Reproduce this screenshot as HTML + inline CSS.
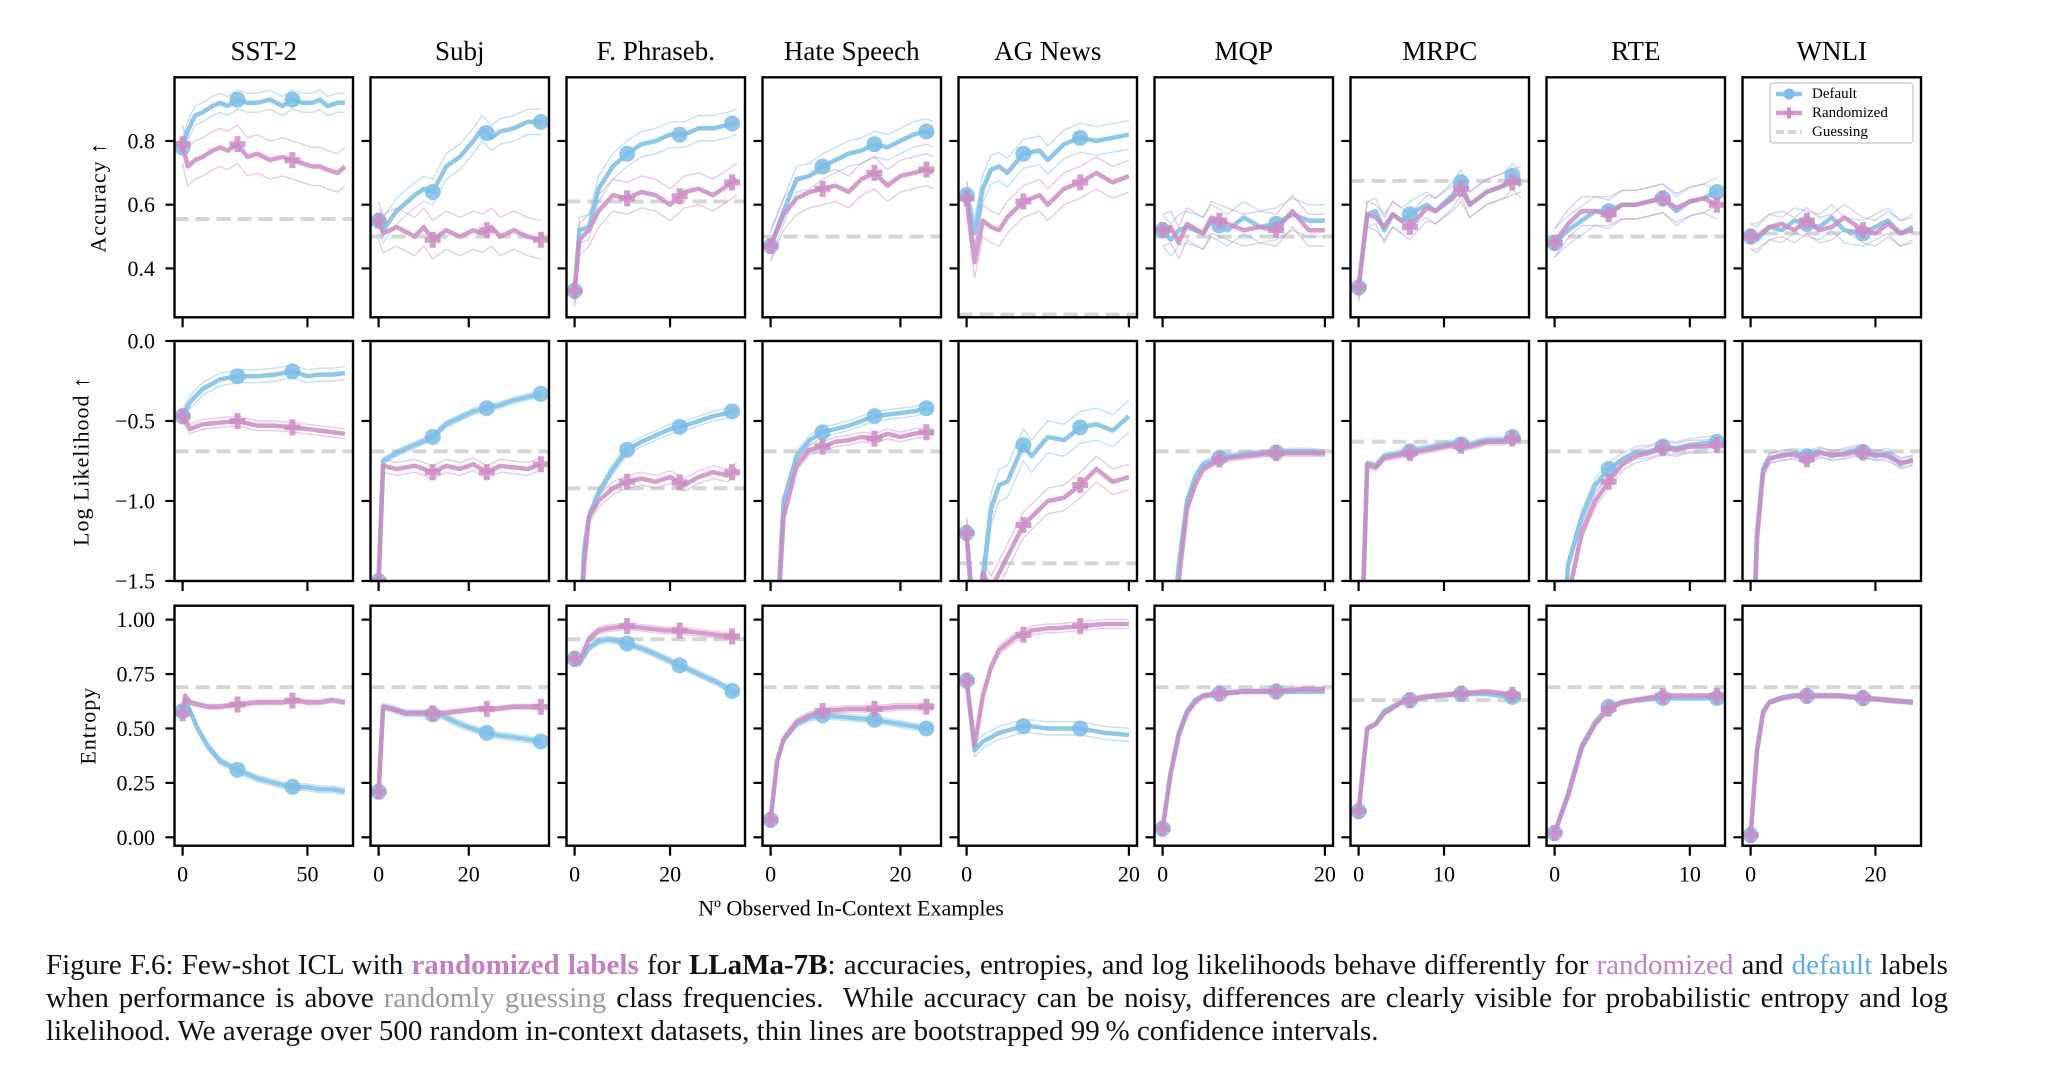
<!DOCTYPE html>
<html><head><meta charset="utf-8">
<style>
html,body{margin:0;padding:0;background:#fff;}
#wrap{position:relative;width:2046px;height:1066px;overflow:hidden;font-family:"Liberation Serif",serif;}
svg{position:absolute;left:0;top:0;}
.cap{position:absolute;left:46px;width:1902px;font-size:29px;line-height:33px;color:#111;text-align:justify;text-align-last:justify;white-space:nowrap;}
.cap.last{text-align-last:left;}
.r{color:#c57fbf;font-weight:bold;}
.r2{color:#c57fbf;}
.d{color:#5aaee3;}
.g{color:#9a9a9a;}
</style></head><body>
<div id="wrap">
<svg id="chart" width="2046" height="1066" xmlns="http://www.w3.org/2000/svg"></svg>
<div class="cap" style="top:949px">Figure F.6: Few-shot ICL with <span class="r">randomized labels</span> for <b>LLaMa-7B</b>: accuracies, entropies, and log likelihoods behave differently for <span class="r2">randomized</span> and <span class="d">default</span> labels</div>
<div class="cap" style="top:982px">when performance is above <span class="g">randomly guessing</span> class frequencies.&nbsp; While accuracy can be noisy, differences are clearly visible for probabilistic entropy and log</div>
<div class="cap last" style="top:1015px">likelihood. We average over 500 random in-context datasets, thin lines are bootstrapped 99&#8201;% confidence intervals.</div>
</div>
<script>
// ---------- categories ----------
const panelNames = ["SST-2","Subj","F. Phraseb.","Hate Speech","AG News","MQP","MRPC","RTE","WNLI"];
const panelXMax = [65,36,34,25,20,20,19,12,26];
const panelXTicks = [[0,50],[0,20],[0,20],[0,20],[0,20],[0,20],[0,10],[0,10],[0,20]];
const markEvery = [22,12,11,8,7,7,6,4,9];
const rowLabels = ["Accuracy \u2191","Log Likelihood \u2191","Entropy"];
const accTicks = [0.4,0.6,0.8];
const accTickLabels = ["0.4","0.6","0.8"];
const llTicks = [-1.5,-1.0,-0.5,0.0];
const llTickLabels = ["\u22121.5","\u22121.0","\u22120.5","0.0"];
const entTicks = [0,0.25,0.5,0.75,1.0];
const entTickLabels = ["0.00","0.25","0.50","0.75","1.00"];
const legendLabels = ["Default","Randomized","Guessing"];

// ---------- guessing baselines ----------
const guessAcc = [0.555,0.50,0.61,0.50,0.255,0.50,0.675,0.50,0.51];
const guessLL = [-0.69,-0.69,-0.92,-0.69,-1.39,-0.69,-0.63,-0.69,-0.69];
const guessEnt = [0.69,0.69,0.91,0.69,1.39,0.69,0.63,0.69,0.69];

// ---------- CI half widths ----------
const ciAccDef = [0.03,0.04,0.04,0.04,0.045,0.05,0.04,0.045,0.04];
const ciAccRnd = [0.06,0.06,0.05,0.05,0.05,0.05,0.04,0.045,0.04];
const ciLLDef = [0.04,0.02,0.03,0.03,0.10,0.02,0.02,0.04,0.03];
const ciLLRnd = [0.03,0.04,0.04,0.03,0.08,0.02,0.02,0.04,0.03];
const ciEntDef = [0.015,0.015,0.015,0.015,0.03,0.01,0.01,0.01,0.01];
const ciEntRnd = [0.01,0.01,0.015,0.015,0.02,0.01,0.01,0.01,0.01];

// ---------- Accuracy ----------
const accSST2X=[0,2,5,8,12,15,18,22,26,30,35,40,44,48,52,55,58,62,65];
const accSST2Def=[0.78,0.83,0.88,0.89,0.91,0.92,0.91,0.93,0.92,0.92,0.93,0.91,0.93,0.92,0.92,0.93,0.91,0.92,0.92];
const accSST2Rnd=[0.79,0.72,0.74,0.75,0.77,0.78,0.77,0.79,0.75,0.76,0.74,0.75,0.74,0.73,0.72,0.72,0.71,0.70,0.72];
const accSubjX=[0,1,4,8,10,12,15,18,21,23,25,27,30,33,36];
const accSubjDef=[0.55,0.52,0.58,0.63,0.65,0.64,0.72,0.75,0.80,0.84,0.81,0.83,0.84,0.86,0.86];
const accSubjRnd=[0.55,0.51,0.53,0.50,0.53,0.49,0.52,0.50,0.52,0.51,0.53,0.50,0.52,0.50,0.49];
const accFPX=[0,1,3,5,8,11,14,17,20,23,26,29,32,34];
const accFPDef=[0.33,0.52,0.53,0.65,0.72,0.76,0.79,0.80,0.82,0.82,0.84,0.84,0.85,0.86];
const accFPRnd=[0.33,0.49,0.52,0.58,0.63,0.62,0.64,0.63,0.60,0.64,0.65,0.63,0.66,0.68];
const accHateX=[0,2,4,6,8,10,12,14,16,18,20,22,24,25];
const accHateDef=[0.47,0.58,0.68,0.69,0.72,0.74,0.76,0.77,0.79,0.78,0.80,0.82,0.83,0.82];
const accHateRnd=[0.47,0.57,0.62,0.64,0.65,0.66,0.64,0.68,0.70,0.66,0.69,0.70,0.71,0.70];
const accAGX=[0,1,2,3,4,5,7,9,10,12,14,16,18,20];
const accAGDef=[0.63,0.51,0.65,0.71,0.72,0.70,0.76,0.77,0.74,0.79,0.81,0.80,0.81,0.82];
const accAGRnd=[0.62,0.42,0.55,0.53,0.52,0.56,0.61,0.63,0.60,0.65,0.67,0.70,0.67,0.69];
const accMQPX=[0,1,2,3,5,6,8,10,12,14,16,18,20];
const accMQPDef=[0.52,0.49,0.52,0.53,0.51,0.55,0.52,0.56,0.53,0.54,0.57,0.55,0.55];
const accMQPRnd=[0.52,0.53,0.48,0.54,0.51,0.56,0.54,0.52,0.53,0.52,0.58,0.52,0.52];
const accMRPCX=[0,1,2,3,4,5,6,8,9,11,12,13,15,17,18,19];
const accMRPCDef=[0.34,0.57,0.58,0.52,0.57,0.55,0.57,0.60,0.58,0.63,0.67,0.60,0.64,0.66,0.69,0.66];
const accMRPCRnd=[0.34,0.57,0.56,0.53,0.57,0.55,0.53,0.59,0.58,0.62,0.65,0.60,0.64,0.66,0.67,0.68];
const accRTEX=[0,1,2,3,4,5,6,7,8,9,10,11,12];
const accRTEDef=[0.48,0.52,0.55,0.58,0.58,0.60,0.60,0.61,0.62,0.58,0.61,0.62,0.64];
const accRTERnd=[0.48,0.54,0.58,0.58,0.57,0.60,0.60,0.61,0.62,0.59,0.61,0.62,0.60];
const accWNLIX=[0,1,3,5,7,9,11,13,15,18,20,22,24,26];
const accWNLIDef=[0.50,0.49,0.53,0.52,0.55,0.54,0.53,0.56,0.52,0.51,0.53,0.55,0.51,0.53];
const accWNLIRnd=[0.50,0.50,0.53,0.54,0.52,0.55,0.52,0.53,0.56,0.52,0.51,0.54,0.51,0.52];

// ---------- Log likelihood ----------
const llSST2X=[0,3,8,15,22,30,37,44,50,55,60,65];
const llSST2Def=[-0.47,-0.38,-0.30,-0.24,-0.22,-0.22,-0.21,-0.19,-0.22,-0.21,-0.21,-0.20];
const llSST2Rnd=[-0.47,-0.55,-0.52,-0.51,-0.50,-0.53,-0.53,-0.54,-0.55,-0.56,-0.57,-0.58];
const llSubjX=[0,1,4,8,12,15,18,21,24,27,30,33,36];
const llSubjDef=[-1.5,-0.75,-0.70,-0.65,-0.60,-0.52,-0.48,-0.44,-0.42,-0.40,-0.37,-0.35,-0.33];
const llSubjRnd=[-1.5,-0.78,-0.80,-0.78,-0.82,-0.78,-0.80,-0.77,-0.82,-0.78,-0.79,-0.80,-0.77];
const llFPX=[0,2,3,5,8,11,14,17,20,23,26,29,32,34];
const llFPDef=[-2.5,-1.3,-1.1,-0.95,-0.80,-0.68,-0.63,-0.59,-0.55,-0.53,-0.50,-0.47,-0.45,-0.43];
const llFPRnd=[-2.5,-1.4,-1.1,-1.0,-0.92,-0.88,-0.86,-0.88,-0.85,-0.90,-0.85,-0.82,-0.84,-0.80];
const llHateX=[0,2,4,6,8,10,12,14,16,18,20,22,24,25];
const llHateDef=[-2.5,-1.0,-0.72,-0.62,-0.57,-0.55,-0.53,-0.50,-0.47,-0.46,-0.45,-0.44,-0.42,-0.43];
const llHateRnd=[-2.5,-1.1,-0.78,-0.68,-0.66,-0.63,-0.62,-0.60,-0.61,-0.58,-0.60,-0.58,-0.57,-0.58];
const llAGX=[0,1,2,3,4,5,7,8,10,12,14,16,18,20];
const llAGDef=[-1.2,-1.8,-1.5,-1.05,-0.90,-0.88,-0.65,-0.72,-0.60,-0.62,-0.54,-0.52,-0.56,-0.47];
const llAGRnd=[-1.2,-1.9,-1.45,-1.55,-1.45,-1.35,-1.15,-1.10,-1.00,-0.98,-0.90,-0.80,-0.88,-0.85];
const llMQPX=[0,2,3,4,5,7,10,13,16,18,20];
const llMQPDef=[-2.5,-1.4,-1.0,-0.85,-0.77,-0.73,-0.71,-0.70,-0.69,-0.69,-0.70];
const llMQPRnd=[-2.5,-1.5,-1.05,-0.90,-0.80,-0.74,-0.72,-0.70,-0.70,-0.70,-0.70];
const llMRPCX=[0,1,2,3,5,7,9,11,13,15,17,18,19];
const llMRPCDef=[-2.5,-0.77,-0.78,-0.72,-0.70,-0.68,-0.66,-0.64,-0.65,-0.62,-0.62,-0.60,-0.62];
const llMRPCRnd=[-2.5,-0.77,-0.79,-0.73,-0.71,-0.69,-0.67,-0.65,-0.66,-0.63,-0.63,-0.61,-0.62];
const llRTEX=[0,1,2,3,4,5,6,7,8,9,10,11,12];
const llRTEDef=[-2.5,-1.4,-1.1,-0.90,-0.80,-0.74,-0.70,-0.69,-0.66,-0.67,-0.65,-0.64,-0.63];
const llRTERnd=[-2.5,-1.6,-1.2,-1.0,-0.88,-0.77,-0.72,-0.70,-0.67,-0.68,-0.66,-0.66,-0.65];
const llWNLIX=[0,1,2,3,5,7,9,11,13,15,17,20,22,24,26];
const llWNLIDef=[-2.5,-1.2,-0.80,-0.73,-0.72,-0.70,-0.72,-0.69,-0.72,-0.70,-0.68,-0.72,-0.70,-0.77,-0.74];
const llWNLIRnd=[-2.5,-1.25,-0.82,-0.74,-0.71,-0.71,-0.74,-0.70,-0.71,-0.71,-0.69,-0.71,-0.72,-0.76,-0.75];

// ---------- Entropy ----------
const entSST2X=[0,1,3,6,10,15,22,30,40,45,50,55,60,65];
const entSST2Def=[0.58,0.63,0.58,0.50,0.42,0.35,0.31,0.27,0.24,0.23,0.23,0.22,0.22,0.21];
const entSST2Rnd=[0.57,0.65,0.62,0.61,0.60,0.60,0.61,0.62,0.62,0.63,0.62,0.62,0.63,0.62];
const entSubjX=[0,1,3,6,10,14,18,22,26,30,33,36];
const entSubjDef=[0.21,0.60,0.59,0.57,0.57,0.56,0.52,0.49,0.47,0.46,0.45,0.44];
const entSubjRnd=[0.21,0.60,0.59,0.57,0.57,0.57,0.58,0.59,0.59,0.60,0.60,0.60];
const entFPX=[0,1,3,5,7,11,15,19,22,26,30,34];
const entFPDef=[0.82,0.80,0.87,0.90,0.91,0.89,0.86,0.82,0.79,0.75,0.71,0.66];
const entFPRnd=[0.82,0.81,0.91,0.95,0.96,0.97,0.96,0.95,0.95,0.94,0.93,0.92];
const entHateX=[0,1,2,4,6,8,12,16,20,24,25];
const entHateDef=[0.08,0.35,0.45,0.52,0.55,0.56,0.55,0.54,0.52,0.50,0.51];
const entHateRnd=[0.08,0.35,0.45,0.53,0.56,0.58,0.59,0.59,0.60,0.60,0.60];
const entAGX=[0,1,2,3,4,6,7,8,10,11,14,17,20];
const entAGDef=[0.72,0.40,0.44,0.46,0.48,0.50,0.51,0.51,0.50,0.50,0.50,0.48,0.47];
const entAGRnd=[0.72,0.42,0.65,0.78,0.86,0.92,0.93,0.95,0.96,0.96,0.97,0.98,0.98];
const entMQPX=[0,1,2,3,4,5,7,10,14,17,20];
const entMQPDef=[0.04,0.30,0.48,0.58,0.63,0.65,0.66,0.67,0.67,0.67,0.67];
const entMQPRnd=[0.04,0.29,0.47,0.57,0.62,0.65,0.66,0.67,0.67,0.68,0.68];
const entMRPCX=[0,1,2,3,5,7,9,12,15,17,19];
const entMRPCDef=[0.12,0.50,0.52,0.58,0.62,0.64,0.65,0.66,0.66,0.65,0.64];
const entMRPCRnd=[0.12,0.50,0.52,0.57,0.62,0.64,0.65,0.66,0.67,0.66,0.65];
const entRTEX=[0,1,2,3,4,5,6,8,10,12];
const entRTEDef=[0.02,0.20,0.42,0.53,0.60,0.62,0.63,0.64,0.64,0.64];
const entRTERnd=[0.02,0.19,0.41,0.52,0.59,0.62,0.63,0.65,0.65,0.65];
const entWNLIX=[0,1,2,3,5,7,10,14,18,22,26];
const entWNLIDef=[0.01,0.40,0.58,0.62,0.64,0.65,0.65,0.65,0.64,0.63,0.62];
const entWNLIRnd=[0.01,0.39,0.57,0.62,0.64,0.65,0.65,0.65,0.64,0.63,0.62];

const accSeries=[[accSST2X,accSST2Def,accSST2Rnd],[accSubjX,accSubjDef,accSubjRnd],[accFPX,accFPDef,accFPRnd],[accHateX,accHateDef,accHateRnd],[accAGX,accAGDef,accAGRnd],[accMQPX,accMQPDef,accMQPRnd],[accMRPCX,accMRPCDef,accMRPCRnd],[accRTEX,accRTEDef,accRTERnd],[accWNLIX,accWNLIDef,accWNLIRnd]];
const llSeries=[[llSST2X,llSST2Def,llSST2Rnd],[llSubjX,llSubjDef,llSubjRnd],[llFPX,llFPDef,llFPRnd],[llHateX,llHateDef,llHateRnd],[llAGX,llAGDef,llAGRnd],[llMQPX,llMQPDef,llMQPRnd],[llMRPCX,llMRPCDef,llMRPCRnd],[llRTEX,llRTEDef,llRTERnd],[llWNLIX,llWNLIDef,llWNLIRnd]];
const entSeries=[[entSST2X,entSST2Def,entSST2Rnd],[entSubjX,entSubjDef,entSubjRnd],[entFPX,entFPDef,entFPRnd],[entHateX,entHateDef,entHateRnd],[entAGX,entAGDef,entAGRnd],[entMQPX,entMQPDef,entMQPRnd],[entMRPCX,entMRPCDef,entMRPCRnd],[entRTEX,entRTEDef,entRTERnd],[entWNLIX,entWNLIDef,entWNLIRnd]];

// ---------- layout ----------
const NS="http://www.w3.org/2000/svg";
const svg=document.getElementById("chart");
const left0=174.5, pitch=196, pw=178.5, ph=240;
const rowTops=[77.3,341,605.7];
const rowYlim=[[0.2465,1.0],[-1.5,0],[-0.0386,1.064]];
const BLUE="#7bbde8", PINK="#cc8cc4";
function mk(tag,attrs,parent){const e=document.createElementNS(NS,tag);for(const k in attrs)e.setAttribute(k,attrs[k]);(parent||svg).appendChild(e);return e;}
function interp(xs,ys,x){for(let i=0;i<xs.length-1;i++){if(x>=xs[i]&&x<=xs[i+1]){const t=(x-xs[i])/(xs[i+1]-xs[i]);return ys[i]+t*(ys[i+1]-ys[i]);}}return ys[ys.length-1];}

const defs=mk("defs",{});
const rowsDef=[
 {series:accSeries,guess:guessAcc,ciD:ciAccDef,ciR:ciAccRnd,ticks:accTicks,labels:accTickLabels,name:"accuracy"},
 {series:llSeries,guess:guessLL,ciD:ciLLDef,ciR:ciLLRnd,ticks:llTicks,labels:llTickLabels,name:"log-likelihood"},
 {series:entSeries,guess:guessEnt,ciD:ciEntDef,ciR:ciEntRnd,ticks:entTicks,labels:entTickLabels,name:"entropy"}];

for(let r=0;r<3;r++){
 const R=rowsDef[r];const top=rowTops[r];const [y0,y1]=rowYlim[r];
 const sy=v=>top+ph-(v-y0)/(y1-y0)*ph;
 const lx=[98,81,88][r];
 const rl=mk("text",{x:lx,y:top+ph/2,"font-size":"22","font-family":"Liberation Serif, serif","text-anchor":"middle","dominant-baseline":"central",transform:`rotate(-90 ${lx} ${top+ph/2})`,"letter-spacing":"1"});
 rl.textContent=rowLabels[r];
 
 
 for(let p=0;p<9;p++){
  const L=left0+p*pitch;const xmax=panelXMax[p];
  const xa=-0.05*xmax, xb=1.05*xmax;
  const sx=v=>L+(v-xa)/(xb-xa)*pw;
  const g=mk("g",{});
  
  
  const cid="c"+r+"_"+p;
  const cp=mk("clipPath",{id:cid},defs);mk("rect",{x:L,y:top,width:pw,height:ph},cp);
  const inner=mk("g",{"clip-path":`url(#${cid})`},g);
  const gl=mk("line",{x1:L,x2:L+pw,y1:sy(R.guess[p]),y2:sy(R.guess[p]),stroke:"#d6d6d6","stroke-width":4,"stroke-dasharray":"14,7"},inner);
  
  
  const [xs,dv,rv]=R.series[p];
  const sets=[[dv,BLUE,R.ciD[p],"default"],[rv,PINK,R.ciR[p],"randomized"]];
  for(const [ys,col,ci,nm] of sets){
   for(const s of [-1,1]){
    const pts=xs.map((x,i)=>sx(x).toFixed(1)+","+sy(ys[i]+s*ci).toFixed(1)).join(" ");
    const cl=mk("polyline",{points:pts,fill:"none",stroke:col,"stroke-width":1.4,opacity:0.45},inner);
    
    
   }
  }
  for(const [ys,col,ci,nm] of sets){
   const pts=xs.map((x,i)=>sx(x).toFixed(1)+","+sy(ys[i]).toFixed(1)).join(" ");
   const ml=mk("polyline",{points:pts,fill:"none",stroke:col,"stroke-width":4.5,opacity:0.85,"stroke-linejoin":"round"},inner);
   
   
   for(let k=0;k*markEvery[p]<=xmax;k++){
    const xv=k*markEvery[p];const cx=sx(xv),cy=sy(interp(xs,ys,xv));
    let m;
    if(nm==="default"){m=mk("circle",{cx:cx,cy:cy,r:8,fill:col,opacity:0.85},inner);}
    else{m=mk("path",{d:`M${cx-8},${cy-3}h5v-5h6v5h5v6h-5v5h-6v-5h-5z`,fill:col,opacity:0.85},inner);}
    
    
   }
  }
  mk("rect",{x:L,y:top,width:pw,height:ph,fill:"none",stroke:"#000","stroke-width":2.4},g);
  R.ticks.forEach((t,i)=>{
   const y=sy(t);
   mk("line",{x1:L-9,x2:L,y1:y,y2:y,stroke:"#000","stroke-width":2.2},g);
   if(p===0){
    const tl=mk("text",{x:155,y:y,"font-size":"22","font-family":"Liberation Serif, serif","text-anchor":"end","dominant-baseline":"central"},g);
    tl.textContent=R.labels[i];
    
    
   }
  });
  panelXTicks[p].forEach(t=>{
   const x=sx(t);
   mk("line",{x1:x,x2:x,y1:top+ph,y2:top+ph+10,stroke:"#000","stroke-width":2.2},g);
   if(r===2){
    const xl=mk("text",{x:x,y:874,"font-size":"22","font-family":"Liberation Serif, serif","text-anchor":"middle","dominant-baseline":"central"},g);
    xl.textContent=String(t);
    
    
   }
  });
  if(r===0){
   const tt=mk("text",{x:L+pw/2,y:51,"font-size":"27","font-family":"Liberation Serif, serif","text-anchor":"middle","dominant-baseline":"central"},g);
   tt.textContent=panelNames[p];
   
   
  }
 }
}
const xt=mk("text",{x:851,y:908,"font-size":"22","font-family":"Liberation Serif, serif","text-anchor":"middle","dominant-baseline":"central"});
xt.textContent="N\u00BA Observed In-Context Examples";



const lg=mk("g",{});


mk("rect",{x:1770,y:83,width:143,height:60,rx:3,fill:"#fff","fill-opacity":0.85,stroke:"#cfcfcf","stroke-width":1.5},lg);
const legColors=[BLUE,PINK,"#d6d6d6"];
legendLabels.forEach((lab,i)=>{
 const y=94+i*19;
 const e=mk("g",{},lg);
 
 
 if(i<2){
  mk("line",{x1:1776,x2:1802,y1:y,y2:y,stroke:legColors[i],"stroke-width":4.5,opacity:0.85},e);
  if(i===0)mk("circle",{cx:1789,cy:y,r:5.5,fill:legColors[i]},e);
  else mk("path",{d:`M${1789-5.5},${y-2}h3.5v-3.5h4v3.5h3.5v4h-3.5v3.5h-4v-3.5h-3.5z`,fill:legColors[i]},e);
 } else {
  mk("line",{x1:1776,x2:1802,y1:y,y2:y,stroke:legColors[i],"stroke-width":4,"stroke-dasharray":"8,4"},e);
 }
 const t=mk("text",{x:1812,y:y,"font-size":"15","font-family":"Liberation Serif, serif","dominant-baseline":"central"},e);
 t.textContent=lab;
});
</script>
</body></html>
